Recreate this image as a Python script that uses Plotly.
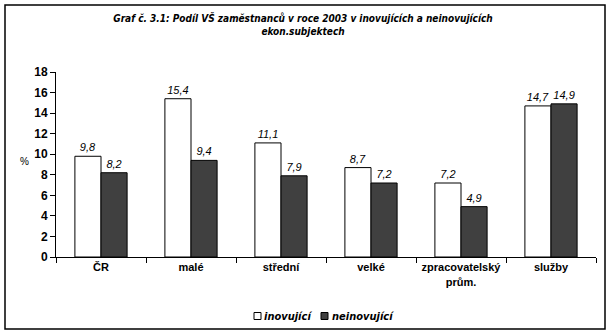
import plotly.graph_objects as go

categories = ["ČR", "malé", "střední", "velké", "zpracovatelský<br>prům.", "služby"]
series_names = ["inovující", "neinovující"]
inovujici = [9.8, 15.4, 11.1, 8.7, 7.2, 14.7]
neinovujici = [8.2, 9.4, 7.9, 7.2, 4.9, 14.9]
title_text = "Graf č. 3.1: Podíl VŠ zaměstnanců v roce 2003 v inovujících a neinovujících<br>ekon.subjektech"

W, H = 611, 333
L, R, T, B = 56, 15, 72, 76
PW, PH = W - L - R, H - T - B
NARROW = "DejaVu Sans Condensed, Liberation Sans Narrow, Liberation Sans"
colors = ["white", "#404040"]

def fmt(v):
    return f"{v:.1f}".replace(".", ",")

fig = go.Figure()
for name, vals, col in zip(series_names, [inovujici, neinovujici], colors):
    fig.add_bar(x=categories, y=vals, name=name,
                marker=dict(color=col, line=dict(color="black", width=1)),
                text=[fmt(v) for v in vals], textposition="outside",
                textfont=dict(family="Liberation Sans", size=11, color="black", style="italic"),
                cliponaxis=False, showlegend=False)

def px_x(p):
    return (p - L) / PW

def px_y(p):
    return (H - B - p) / PH

# outer border
fig.add_shape(type="rect", xref="paper", yref="paper",
              x0=px_x(5), x1=px_x(605), y0=px_y(329), y1=px_y(5),
              line=dict(color="black", width=1.5), fillcolor="rgba(0,0,0,0)")

# y axis unit
fig.add_annotation(xref="paper", yref="paper", x=px_x(31), y=px_y(161),
                   xanchor="right", yanchor="middle",
                   text="%", showarrow=False,
                   font=dict(family="Liberation Sans", size=10, color="black"))

# legend (manual, compact like the original)
leg_y = 316
sq = 7
for (sx, tx), name, col in zip([(254, 262), (321, 330)], series_names, colors):
    fig.add_shape(type="rect", xref="paper", yref="paper",
                  x0=px_x(sx), x1=px_x(sx + sq), y0=px_y(leg_y + sq / 2), y1=px_y(leg_y - sq / 2),
                  line=dict(color="black", width=1), fillcolor=col)
    fig.add_annotation(xref="paper", yref="paper", x=px_x(tx), y=px_y(leg_y),
                       xanchor="left", yanchor="middle", text=f"<b><i>{name}</i></b>",
                       showarrow=False,
                       font=dict(family=NARROW, size=11, color="black"))

fig.update_layout(
    width=W, height=H,
    margin=dict(l=L, r=R, t=T, b=B),
    paper_bgcolor="white", plot_bgcolor="white",
    barmode="group", bargap=0.42, bargroupgap=0,
    title=dict(text=title_text, xref="container", x=303 / W, xanchor="center",
               yref="container", y=1 - 22 / H, yanchor="middle",
               font=dict(family=NARROW, size=10, color="black",
                         weight="bold", style="italic")),
    showlegend=False,
    xaxis=dict(showline=True, linecolor="black", linewidth=1,
               ticks="outside", ticklen=5, tickcolor="black",
               tickson="boundaries",
               tickfont=dict(family="Liberation Sans", size=11, color="black", weight="bold"),
               showgrid=False),
    yaxis=dict(range=[0, 18], dtick=2, showline=True, linecolor="black", linewidth=1,
               ticks="outside", ticklen=5, tickcolor="black",
               tickfont=dict(family="Liberation Sans", size=12, color="black", weight="bold"),
               showgrid=False, zeroline=False),
)

fig.write_html("out.html")
